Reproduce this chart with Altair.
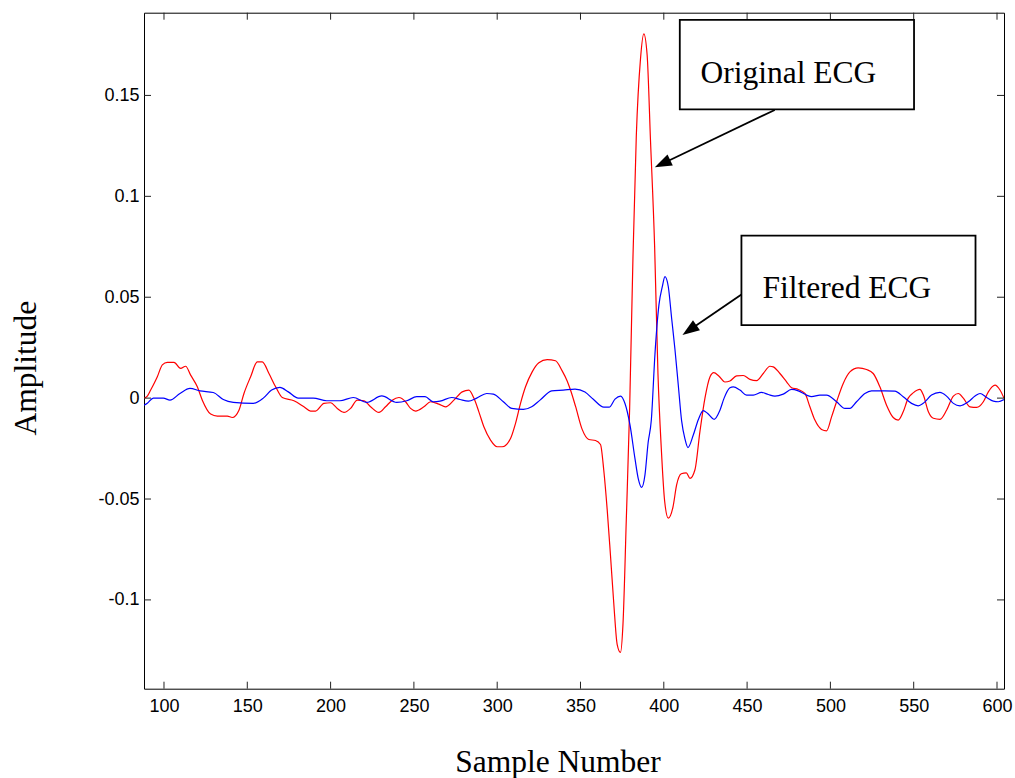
import altair as alt
import pandas as pd

# ---------------- data ----------------
red_x = [88, 90, 92, 96, 99, 102, 106, 110, 113, 116, 120, 123, 128, 132, 138, 141, 145, 148, 152, 156,
         159, 163, 167, 171, 178, 184, 188, 191, 196, 200, 204, 208, 212, 216, 220, 224, 229, 233, 237, 241,
         245, 248, 251, 256, 260, 265, 269, 274, 279, 283, 286, 289, 292, 296, 300, 303, 308, 311, 314, 317,
         321, 325, 330, 335, 339, 342, 344, 347, 351, 355, 359, 362, 364, 366, 368, 370, 372, 374, 375.5, 377.5,
         379.5, 381.5, 383.5, 386, 388, 390, 392, 394.5, 396.5, 398.5, 400.5, 402.7, 405.5, 407.7, 410.5, 413.5,
         415.7, 418.7, 421.7, 424.7, 427.7, 430, 433, 436.7, 439.7, 443.7, 447.7, 451.7, 455.7, 459.7, 463.7,
         465.7, 469.7, 473.7, 476.7, 480.7, 484.7, 487.7, 490.7, 494.7, 497.7, 500.7, 503.7, 507.7, 511.7, 516.7,
         521.7, 525.7, 529.7, 533.7, 537.7, 540.7, 543.7, 546.7, 549.7, 553.7, 555.8, 558.8, 561.8, 565.8, 569.8,
         573.8, 576.8, 579.8, 583.8, 587.8, 591.8, 594.8, 598.8, 601.8, 604.2]
red_y = [0.0, 0.001, 0.004, 0.0106, 0.0165, 0.0177, 0.0177, 0.0147, 0.0158, 0.0114, 0.0056, -0.001, -0.0079,
         -0.0089, -0.0089, -0.0096, -0.006, 0.0023, 0.0106, 0.018,
         0.018, 0.0122, 0.0056, 0.0003, -0.0013, -0.0043, -0.0064, -0.0064, -0.0026, -0.0023, -0.0051, -0.0071,
         -0.0051, -0.001, -0.0013, -0.0043, -0.0071, -0.0043, -0.001, 0.0003,
         -0.0018, -0.0051, -0.0064, -0.0043, -0.0018, -0.003, -0.0043, -0.001, 0.0031, 0.004, 0.0, -0.0068,
         -0.0142, -0.0208, -0.0241, -0.0241, -0.02, -0.0125, -0.0026, 0.0056,
         0.013, 0.0175, 0.0191, 0.0185, 0.0135, 0.0085, 0.004, -0.004, -0.0155, -0.0205, -0.021, -0.023, -0.036,
         -0.055, -0.078, -0.102, -0.122, -0.126, -0.112, -0.06,
         -0.005, 0.07, 0.13, 0.168, 0.1805, 0.170, 0.128, 0.075, 0.012, -0.025, -0.051, -0.0595, -0.054, -0.043,
         -0.0375, -0.037,
         -0.0398, -0.0355, -0.0165, 0.0, 0.0105, 0.0126, 0.011, 0.008, 0.0085, 0.011, 0.0112, 0.0093, 0.0087,
         0.0122, 0.0158,
         0.0155, 0.0122, 0.0081, 0.0051, 0.0043, 0.0023, -0.0043, -0.0109, -0.0155, -0.0162, -0.0093, -0.0018,
         0.0073, 0.013, 0.015,
         0.0142, 0.0122, 0.0056, -0.0035, -0.0096, -0.0109, -0.0068, 0.0, 0.0026, 0.0043, 0.0015, -0.0068, -0.01,
         -0.0105, -0.0059,
         0.001, 0.0023, 0.0, -0.0043, -0.0046, -0.0018, 0.0031, 0.0064, 0.004, 0.0]

blue_x = [88, 90, 93.6, 99.6, 103.6, 109.6, 115.6, 121.6, 129.6, 135.6, 141.6, 153.6, 159.6, 164.6, 169.6,
          174.6, 180.6, 189.6, 197.6, 205.6, 213.6, 221.7, 230.7, 239.7, 245.7, 251.7, 256.7, 261.6, 265.7,
          272.7, 277.7, 282.7, 287.7, 293.7, 297.7, 303.7, 308.7, 315.7, 320.7, 325.7, 332.7, 339.7, 346.7,
          352.7, 357.7, 364, 367.2, 370.7, 374.1, 376.7, 379.7, 382.7, 384.7, 386.7, 388.7, 390.6, 392.5,
          394.7, 397.1, 399.1, 400.7, 402.7, 404.7, 406.7, 408.7, 410.7, 412.7, 414.5, 417.7, 420.7, 423.7,
          426.2, 430.2, 433.7, 436.2, 439.7, 441.7, 445.7, 449.7, 453.7, 458.7, 462.7, 466.7, 471.7, 476.7,
          480.7, 485.7, 488.7, 493.7, 497.7, 503.7, 508.7, 511.7, 515.7, 520.7, 524.7, 532.7, 538.7, 543.7,
          548.7, 552.7, 555.7, 560.7, 565.7, 569.7, 573.8, 577.8, 582.8, 586.8, 589.8, 593.8, 597.8, 600.8, 604.2]
blue_y = [-0.0035, -0.0025, 0.0, 0.0, -0.001, 0.0023, 0.0048, 0.0036, 0.0028, -0.0007, -0.0021, -0.0026, 0.0,
          0.004, 0.0053,
          0.0031, 0.0, 0.0, -0.0013, -0.0013, 0.0003, -0.0021, 0.0011, -0.0021, -0.0013, 0.0007, 0.0007, -0.0018,
          -0.0015,
          0.0003, -0.0007, -0.0015, 0.0, 0.0023, 0.002, -0.0018, -0.0051, -0.0056, -0.0043, -0.001, 0.0036, 0.004,
          0.0045,
          0.003, -0.0006, -0.0045, -0.0045, -0.0005, 0.001, -0.0027, -0.0133, -0.03, -0.04, -0.0442, -0.038, -0.022,
          -0.011,
          0.0219, 0.0463, 0.0552, 0.0602, 0.0552, 0.0396, 0.0241, 0.0064, -0.0113, -0.0202, -0.0245, -0.0183,
          -0.0107, -0.0062,
          -0.0075, -0.0105, -0.006, 0.0, 0.0051, 0.0056, 0.004, 0.0015, 0.0015, 0.0028, 0.0018, 0.001, 0.002,
          0.0043,
          0.0036, 0.0015, 0.0007, 0.0015, 0.0015, -0.0018, -0.0051, -0.0051, -0.0018, 0.0023, 0.0036, 0.0036,
          0.0035, 0.0007,
          -0.0026, -0.0038, -0.0026, 0.0015, 0.0028, 0.001, -0.0026, -0.0038, -0.0018, 0.001, 0.0023, 0.0003,
          -0.0015, -0.0018, -0.0007]

series_names = ["Original ECG", "Filtered ECG"]
series_colors = ["#ff0000", "#0000ff"]

x_ticks = [100, 150, 200, 250, 300, 350, 400, 450, 500, 550, 600]
y_ticks = [-0.1, -0.05, 0, 0.05, 0.1, 0.15]

x_domain = [88, 604.2]
y_domain = [-0.144, 0.191]

# annotation boxes / labels / arrows (in data units)
box_x = [409.6, 446.6]
box_x2 = [550.2, 587.1]
box_y = [0.1874, 0.0805]
box_y2 = [0.1431, 0.0362]
label_text = ["Original ECG", "Filtered ECG"]
label_x = [422.0, 459.2]
label_y = [0.1563, 0.0495]
arrow_x = [466.6, 446.6]
arrow_y = [0.1428, 0.0514]
arrow_x2 = [400.0, 416.1]
arrow_y2 = [0.1165, 0.0341]
tip_x = [394.6, 411.2]
tip_y = [0.1144, 0.0313]
tip_angle = [244.5, 235.4]

# ---------------- chart ----------------
W, H = 860, 676
SERIF = "Liberation Serif"
SANS = "Liberation Sans"

df = pd.concat([
    pd.DataFrame({"s": red_x, "v": red_y, "sig": series_names[0]}),
    pd.DataFrame({"s": blue_x, "v": blue_y, "sig": series_names[1]}),
], ignore_index=True)

xscale = alt.Scale(domain=x_domain, nice=False, zero=False)
yscale = alt.Scale(domain=y_domain, nice=False, zero=False)

x_axis = alt.Axis(
    values=x_ticks, title="Sample Number", ticks=False, tickSize=0, domain=False, grid=False,
    labelFont=SANS, labelFontSize=18, labelColor="black", labelPadding=9,
    labelExpr="datum.value + ''",
    titleFont=SERIF, titleFontSize=31.5, titleFontWeight="normal", titleColor="black",
    titleX=413.5, titleY=82.7, titleAlign="center", titleBaseline="alphabetic", titleAngle=0)
y_axis = alt.Axis(
    values=y_ticks, title="Amplitude", ticks=False, tickSize=0, domain=False, grid=False,
    labelFont=SANS, labelFontSize=18, labelColor="black", labelPadding=5,
    labelExpr="datum.value + ''",
    titleFont=SERIF, titleFontSize=31.5, titleFontWeight="normal", titleColor="black",
    titleX=-109, titleY=355, titleAlign="center", titleBaseline="alphabetic", titleAngle=270)

def X(field):
    return alt.X(field, scale=xscale, axis=x_axis)

def Y(field):
    return alt.Y(field, scale=yscale, axis=y_axis)

lines = alt.Chart(df).mark_line(strokeWidth=1.2, interpolate="monotone", clip=True).encode(
    x=X("s:Q"), y=Y("v:Q"),
    color=alt.Color("sig:N", scale=alt.Scale(domain=series_names, range=series_colors), legend=None),
)

xt = pd.DataFrame({"t": x_ticks})
yt = pd.DataFrame({"t": y_ticks})
tick_style = dict(color="#222222", strokeWidth=1)
xb = alt.Chart(xt).mark_rule(**tick_style).encode(x=X("t:Q"), y=alt.value(H), y2=alt.value(H - 7))
xtop = alt.Chart(xt).mark_rule(**tick_style).encode(x=X("t:Q"), y=alt.value(0), y2=alt.value(7))
yl = alt.Chart(yt).mark_rule(**tick_style).encode(y=Y("t:Q"), x=alt.value(0), x2=alt.value(7))
yr = alt.Chart(yt).mark_rule(**tick_style).encode(y=Y("t:Q"), x=alt.value(W), x2=alt.value(W - 7))

ann = pd.DataFrame({
    "bx": box_x, "bx2": box_x2, "by": box_y, "by2": box_y2,
    "lt": label_text, "lx": label_x, "ly": label_y,
    "ax": arrow_x, "ay": arrow_y, "ax2": arrow_x2, "ay2": arrow_y2,
    "tx": tip_x, "ty": tip_y, "ang": tip_angle,
})

boxes = alt.Chart(ann).mark_rect(fill="white", stroke="black", strokeWidth=1.8).encode(
    x=X("bx:Q"), x2="bx2:Q", y=Y("by:Q"), y2="by2:Q")
texts = alt.Chart(ann).mark_text(font=SERIF, fontSize=31.5, align="left", baseline="alphabetic",
                                 color="black").encode(x=X("lx:Q"), y=Y("ly:Q"), text="lt:N")
arrows = alt.Chart(ann).mark_rule(color="black", strokeWidth=1.8).encode(
    x=X("ax:Q"), y=Y("ay:Q"), x2="ax2:Q", y2="ay2:Q")
heads = alt.Chart(ann).mark_point(shape="M0,0 L-0.36,1 L0.36,1 Z", filled=True, size=1156,
                                  color="black", opacity=1, strokeWidth=0).encode(
    x=X("tx:Q"), y=Y("ty:Q"), angle=alt.Angle("ang:Q", scale=None))

chart = alt.layer(lines, xb, xtop, yl, yr, boxes, texts, arrows, heads).properties(
    width=W, height=H,
    padding={"left": 144, "top": 12.7, "right": 11, "bottom": 89.3},
    autosize=alt.AutoSizeParams(type="none"),
    background="white",
).configure_view(stroke="black", strokeWidth=1)

chart.save("out.html", embed_options={"renderer": "svg", "actions": False})
